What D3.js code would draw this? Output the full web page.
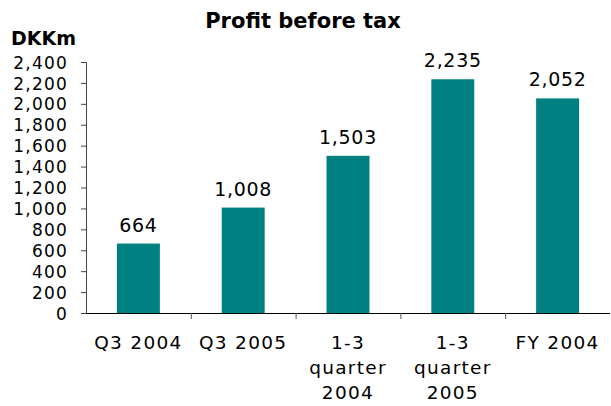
<!DOCTYPE html>
<html>
<head>
<meta charset="utf-8">
<script src="https://cdn.jsdelivr.net/npm/d3@7"></script>
<style>
  body { margin: 0; background: #fff; }
  svg text { font-family: "DejaVu Sans", Verdana, sans-serif; fill: #000; }
</style>
</head>
<body>
<svg id="chart"></svg>
<script>
const categories = [['Q3 2004'], ['Q3 2005'], ['1-3', 'quarter', '2004'], ['1-3', 'quarter', '2005'], ['FY 2004']];
const profit = [664, 1008, 1503, 2235, 2052];
const yTicks = [0, 200, 400, 600, 800, 1000, 1200, 1400, 1600, 1800, 2000, 2200, 2400];

const margin = {top: 62, bottom: 93, left: 86, right: 1};
const width = 611 - margin.left - margin.right;
const height = 406 - margin.top - margin.bottom;

const root = d3.select('#chart')
.attr('width', 611)
.attr('height', 406);

root.append('text')
.attr('x', 303)
.attr('y', 28)
.attr('text-anchor', 'middle')
.style('font-size', '21px')
.style('font-weight', 'bold')
.text('Profit before tax');

root.append('text')
.attr('x', 11)
.attr('y', 45)
.style('font-size', '19px')
.style('font-weight', 'bold')
.text('DKKm');

const svg = root.append('g')
.attr('transform', `translate(${margin.left}, ${margin.top})`);

const x = d3.scaleBand()
.domain(d3.range(categories.length))
.range([0, width])
.paddingInner(0.59)
.paddingOuter(0.295);

const y = d3.scaleLinear()
.domain([0, 2400])
.range([height, 0]);

// y axis
const yAxis = svg.append('g')
.call(d3.axisLeft(y).tickValues(yTicks).tickSize(5).tickPadding(13).tickFormat(d3.format(',')));
yAxis.select('.domain').attr('stroke', '#444').attr('d', `M-5,0.5H0.5V${height}`);
yAxis.selectAll('.tick line').attr('stroke', '#444');
yAxis.selectAll('.tick text')
.style('font-size', '17px')
.attr('dy', '0.36em')
.style('letter-spacing', '1.2px');

// bars
svg.selectAll('rect')
.data(profit)
.enter()
.append('rect')
.attr('x', (d, i) => x(i))
.attr('y', d => y(d))
.attr('width', x.bandwidth())
.attr('height', d => height - y(d))
.attr('fill', '#008080');

// value labels
svg.selectAll('.val')
.data(profit)
.enter()
.append('text')
.attr('class', 'val')
.attr('x', (d, i) => x(i) + x.bandwidth() / 2)
.attr('y', d => y(d) - 12)
.attr('text-anchor', 'middle')
.style('font-size', '19px')
.style('letter-spacing', '0.7px')
.text(d => d3.format(',')(d));

// x axis
const step = x.step();
svg.append('line')
.attr('x1', 0)
.attr('x2', width)
.attr('y1', height + 0.5)
.attr('y2', height + 0.5)
.attr('stroke', '#000');

svg.selectAll('.xtick')
.data(d3.range(1, categories.length))
.enter()
.append('line')
.attr('class', 'xtick')
.attr('x1', d => d * step + 0.5)
.attr('x2', d => d * step + 0.5)
.attr('y1', height)
.attr('y2', height + 6)
.attr('stroke', '#555');

const catLabels = svg.selectAll('.cat')
.data(categories)
.enter()
.append('text')
.attr('class', 'cat')
.attr('text-anchor', 'middle')
.attr('transform', (d, i) => `translate(${x(i) + x.bandwidth() / 2}, ${height + 36})`)
.style('font-size', '18.5px')
.style('letter-spacing', '1.3px');

catLabels.selectAll('tspan')
.data(d => d)
.enter()
.append('tspan')
.attr('x', 0)
.attr('y', (d, i) => i * 25)
.text(d => d);
</script>
</body>
</html>
